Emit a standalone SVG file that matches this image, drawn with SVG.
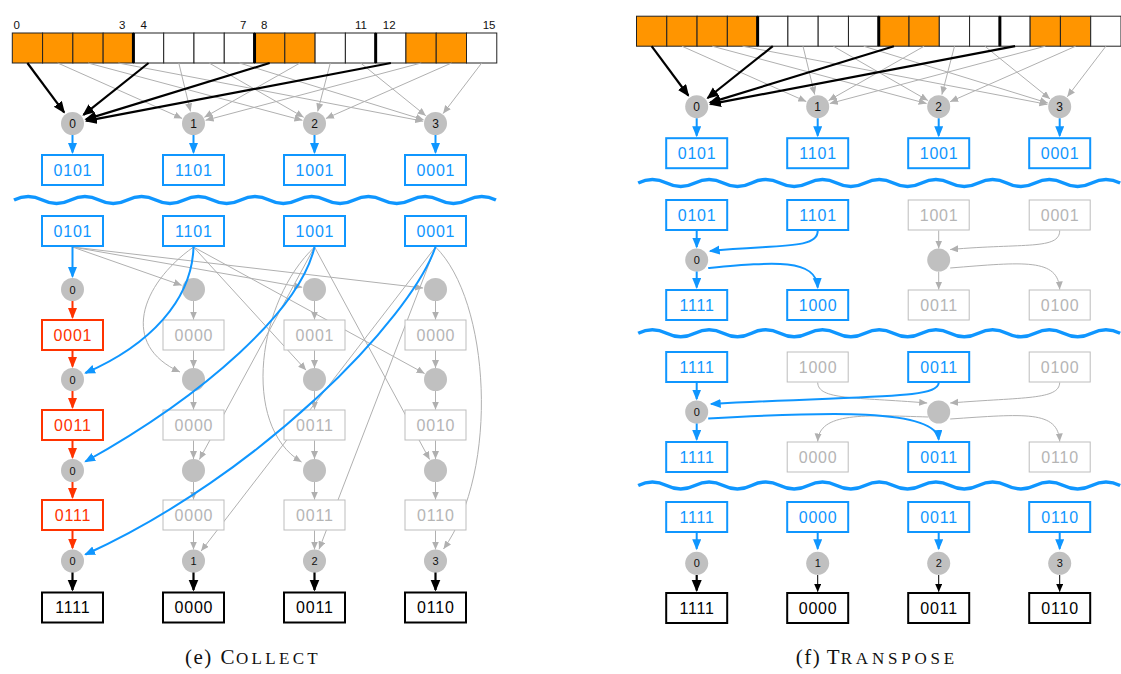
<svg xmlns="http://www.w3.org/2000/svg" width="1121" height="674" viewBox="0 0 1121 674">
  <defs>
    <style>
      .cell { stroke: #222; stroke-width: 1; }
      .cell.on { fill: #ff9500; }
      .cell.off { fill: #fff; }
      .sep { stroke: #000; stroke-width: 3; }
      .idx { font-family: "Liberation Sans", Arial, sans-serif; font-size: 11.5px; fill: #111; }
      .circ circle { fill: #c0c0c0; }
      .circ text { font-family: "Liberation Sans", Arial, sans-serif; font-size: 11px; fill: #111; text-anchor: middle; }
      .circ.big text { font-size: 12px; }
      .box rect { fill: #fff; }
      .box text { font-family: "Liberation Sans", Arial, sans-serif; font-size: 16px; letter-spacing: 0.8px; text-anchor: middle; }
      .box.blue rect { stroke: #0f96ff; stroke-width: 2; }
      .box.blue text { fill: #0f96ff; }
      .box.gray rect { stroke: #bdbdbd; stroke-width: 1; }
      .box.gray text { fill: #b5b5b5; }
      .box.red rect { stroke: #ff3300; stroke-width: 2; }
      .box.red text { fill: #ff3300; }
      .box.black rect { stroke: #000; stroke-width: 2; }
      .box.black text { fill: #000; }
      .e { fill: none; }
      .e.gray { stroke: #b0b0b0; stroke-width: 1; marker-end: url(#ah-gray); }
      .e.blue { stroke: #0f96ff; stroke-width: 2; marker-end: url(#ah-blue); }
      .e.red { stroke: #ff3300; stroke-width: 2; marker-end: url(#ah-red); }
      .e.black { stroke: #000; stroke-width: 2.2; marker-end: url(#ah-black); }
      .e.thin { stroke: #000; stroke-width: 1; marker-end: url(#ah-black-s); }
      .wave { fill: none; stroke: #0f96ff; stroke-width: 3.5; }
      .cap { font-family: "Liberation Serif", "Times New Roman", serif; font-size: 21px; fill: #111; }
      .cap .par { letter-spacing: 1.5px; }
      .cap .sc { font-size: 17px; letter-spacing: 3.3px; }
    </style>
    <marker id="ah-gray" markerUnits="userSpaceOnUse" markerWidth="9" markerHeight="8" refX="8" refY="3.5" orient="auto">
      <path d="M0,0 L8,3.5 L0,7 z" fill="#b0b0b0"/>
    </marker>
    <marker id="ah-blue" markerUnits="userSpaceOnUse" markerWidth="12" markerHeight="10" refX="9.5" refY="4.5" orient="auto">
      <path d="M0,0 L11,4.5 L0,9 z" fill="#0f96ff"/>
    </marker>
    <marker id="ah-red" markerUnits="userSpaceOnUse" markerWidth="12" markerHeight="10" refX="9.5" refY="4.5" orient="auto">
      <path d="M0,0 L11,4.5 L0,9 z" fill="#ff3300"/>
    </marker>
    <marker id="ah-black" markerUnits="userSpaceOnUse" markerWidth="13" markerHeight="11" refX="10.5" refY="5" orient="auto">
      <path d="M0,0 L12,5 L0,10 z" fill="#000"/>
    </marker>
    <marker id="ah-black-s" markerUnits="userSpaceOnUse" markerWidth="9" markerHeight="8" refX="7.5" refY="3.5" orient="auto">
      <path d="M0,0 L8,3.5 L0,7 z" fill="#000"/>
    </marker>
  </defs>

  <rect width="1121" height="674" fill="#fff"/>

  <!-- ============ (e) Collect ============ -->
  <g id="collect">
    <!-- memory row: 16 cells -->
    <g id="l-mem">
      <rect class="cell on" x="12.30" y="33" width="30.28" height="30"/>
      <rect class="cell on" x="42.58" y="33" width="30.28" height="30"/>
      <rect class="cell on" x="72.86" y="33" width="30.28" height="30"/>
      <rect class="cell on" x="103.14" y="33" width="30.28" height="30"/>
      <rect class="cell off" x="133.42" y="33" width="30.28" height="30"/>
      <rect class="cell off" x="163.70" y="33" width="30.28" height="30"/>
      <rect class="cell off" x="193.98" y="33" width="30.28" height="30"/>
      <rect class="cell off" x="224.26" y="33" width="30.28" height="30"/>
      <rect class="cell on" x="254.54" y="33" width="30.28" height="30"/>
      <rect class="cell on" x="284.82" y="33" width="30.28" height="30"/>
      <rect class="cell off" x="315.10" y="33" width="30.28" height="30"/>
      <rect class="cell off" x="345.38" y="33" width="30.28" height="30"/>
      <rect class="cell off" x="375.66" y="33" width="30.28" height="30"/>
      <rect class="cell on" x="405.94" y="33" width="30.28" height="30"/>
      <rect class="cell on" x="436.22" y="33" width="30.28" height="30"/>
      <rect class="cell off" x="466.50" y="33" width="30.28" height="30"/>
      <line class="sep" x1="133.42" y1="33" x2="133.42" y2="63"/>
      <line class="sep" x1="254.54" y1="33" x2="254.54" y2="63"/>
      <line class="sep" x1="375.66" y1="33" x2="375.66" y2="63"/>
      <text class="idx" x="13.5" y="29.3">0</text>
      <text class="idx" x="125.5" y="29.3" text-anchor="end">3</text>
      <text class="idx" x="140.5" y="29.3">4</text>
      <text class="idx" x="246.5" y="29.3" text-anchor="end">7</text>
      <text class="idx" x="261" y="29.3">8</text>
      <text class="idx" x="367" y="29.3" text-anchor="end">11</text>
      <text class="idx" x="382.8" y="29.3">12</text>
      <text class="idx" x="495.5" y="29.3" text-anchor="end">15</text>
    </g>

    <!-- connectors -->
    <g id="l-edges-back">
      <path class="e gray" d="M57.7,63 L182.1,118.4"/>
      <path class="e gray" d="M88,63 L302.4,120.3"/>
      <path class="e gray" d="M118.3,63 L423.2,121.2"/>
      <path class="e gray" d="M178.8,63 L190.5,111.4"/>
      <path class="e gray" d="M209.1,63 L303.7,117.3"/>
      <path class="e gray" d="M239.4,63 L423.6,119.8"/>
      <path class="e gray" d="M300,63 L204.4,117.3"/>
      <path class="e gray" d="M330.3,63 L317.7,111.4"/>
      <path class="e gray" d="M360.6,63 L425.8,115.7"/>
      <path class="e gray" d="M421.2,63 L205.6,120.3"/>
      <path class="e gray" d="M451.5,63 L325.9,118.5"/>
      <path class="e gray" d="M481.7,63 L443.1,113.6"/>
      <path class="e black" d="M27.4,63 L64.1,112.3"/>
      <path class="e black" d="M148.6,63 L83.5,114.8"/>
      <path class="e black" d="M269.7,63 L85.9,119.4"/>
      <path class="e black" d="M390.9,63 L86.3,120.9"/>

      <!-- fan-out from the first row of the second stage -->
      <path class="e gray" d="M72.5,247 L181.7,285.3"/>
      <path class="e gray" d="M72.5,247 L302.2,287.3"/>
      <path class="e gray" d="M72.5,247 L423.1,288"/>
      <path class="e gray" d="M193.5,247 C140,285 120,345 180,372"/>
      <path class="e gray" d="M193.5,247 L306.1,370.2"/>
      <path class="e gray" d="M193.5,247 L424.6,373.5"/>
      <path class="e gray" d="M314.5,247 L199.4,459.5"/>
      <path class="e gray" d="M314.5,247 C258,300 240,425 301.5,462"/>
      <path class="e gray" d="M314.5,247 L429.6,459.5"/>
      <path class="e gray" d="M435.5,247 L201.1,551.1"/>
      <path class="e gray" d="M435.5,247 L319,549.3"/>
      <path class="e gray" d="M435.5,247 C490,300 500,470 443.5,549"/>

      <!-- vertical chains, columns 1-3 -->
      <path class="e gray" d="M193.5,301 L193.5,319.5"/>
      <path class="e gray" d="M193.5,350.5 L193.5,368"/>
      <path class="e gray" d="M193.5,391 L193.5,409.5"/>
      <path class="e gray" d="M193.5,440.5 L193.5,459"/>
      <path class="e gray" d="M193.5,482 L193.5,499.5"/>
      <path class="e gray" d="M193.5,530.5 L193.5,549.5"/>
      <path class="e gray" d="M314.5,301 L314.5,319.5"/>
      <path class="e gray" d="M314.5,350.5 L314.5,368"/>
      <path class="e gray" d="M314.5,391 L314.5,409.5"/>
      <path class="e gray" d="M314.5,440.5 L314.5,459"/>
      <path class="e gray" d="M314.5,482 L314.5,499.5"/>
      <path class="e gray" d="M314.5,530.5 L314.5,549.5"/>
      <path class="e gray" d="M435.5,301 L435.5,319.5"/>
      <path class="e gray" d="M435.5,350.5 L435.5,368"/>
      <path class="e gray" d="M435.5,391 L435.5,409.5"/>
      <path class="e gray" d="M435.5,440.5 L435.5,459"/>
      <path class="e gray" d="M435.5,482 L435.5,499.5"/>
      <path class="e gray" d="M435.5,530.5 L435.5,549.5"/>
    </g>

    <!-- first stage nodes -->
    <g id="l-p0" class="circ big"><circle cx="72.5" cy="123.5" r="11.5"/><text x="72.5" y="127.7">0</text></g>
    <g id="l-p1" class="circ big"><circle cx="193.5" cy="123.5" r="11.5"/><text x="193.5" y="127.7">1</text></g>
    <g id="l-p2" class="circ big"><circle cx="314.5" cy="123.5" r="11.5"/><text x="314.5" y="127.7">2</text></g>
    <g id="l-p3" class="circ big"><circle cx="435.5" cy="123.5" r="11.5"/><text x="435.5" y="127.7">3</text></g>
    <g id="l-a0" class="box blue"><rect x="42" y="155" width="61" height="30"/><text x="72.9" y="175.7">0101</text></g>
    <g id="l-a1" class="box blue"><rect x="163" y="155" width="61" height="30"/><text x="193.9" y="175.7">1101</text></g>
    <g id="l-a2" class="box blue"><rect x="284" y="155" width="61" height="30"/><text x="314.9" y="175.7">1001</text></g>
    <g id="l-a3" class="box blue"><rect x="405" y="155" width="61" height="30"/><text x="435.9" y="175.7">0001</text></g>

    <path id="l-wave" class="wave" d="M14,200 q14.175,-7 28.35,0 t28.35,0 t28.35,0 t28.35,0 t28.35,0 t28.35,0 t28.35,0 t28.35,0 t28.35,0 t28.35,0 t28.35,0 t28.35,0 t28.35,0 t28.35,0 t28.35,0 t28.35,0 t28.35,0"/>

    <!-- second stage: inputs -->
    <g id="l-b0" class="box blue"><rect x="42" y="216" width="61" height="30"/><text x="72.9" y="236.7">0101</text></g>
    <g id="l-b1" class="box blue"><rect x="163" y="216" width="61" height="30"/><text x="193.9" y="236.7">1101</text></g>
    <g id="l-b2" class="box blue"><rect x="284" y="216" width="61" height="30"/><text x="314.9" y="236.7">1001</text></g>
    <g id="l-b3" class="box blue"><rect x="405" y="216" width="61" height="30"/><text x="435.9" y="236.7">0001</text></g>

    <!-- column 0 -->
    <g id="l-c0-s1" class="circ"><circle cx="72.5" cy="289.5" r="11.5"/><text x="72.5" y="293.5">0</text></g>
    <g id="l-c0-v1" class="box red"><rect x="42" y="320" width="61" height="30"/><text x="72.9" y="340.7">0001</text></g>
    <g id="l-c0-s2" class="circ"><circle cx="72.5" cy="379.5" r="11.5"/><text x="72.5" y="383.5">0</text></g>
    <g id="l-c0-v2" class="box red"><rect x="42" y="410" width="61" height="30"/><text x="72.9" y="430.7">0011</text></g>
    <g id="l-c0-s3" class="circ"><circle cx="72.5" cy="470.5" r="11.5"/><text x="72.5" y="474.5">0</text></g>
    <g id="l-c0-v3" class="box red"><rect x="42" y="500" width="61" height="30"/><text x="72.9" y="520.7">0111</text></g>
    <g id="l-c0-s4" class="circ"><circle cx="72.5" cy="561" r="11.5"/><text x="72.5" y="565">0</text></g>
    <g id="l-c0-out" class="box black"><rect x="42" y="592.5" width="61" height="30"/><text x="72.9" y="613.2">1111</text></g>

    <!-- column 1 -->
    <g id="l-c1-s1" class="circ"><circle cx="193.5" cy="289.5" r="11.5"/></g>
    <g id="l-c1-v1" class="box gray"><rect x="163" y="320" width="61" height="30"/><text x="193.9" y="340.7">0000</text></g>
    <g id="l-c1-s2" class="circ"><circle cx="193.5" cy="379.5" r="11.5"/></g>
    <g id="l-c1-v2" class="box gray"><rect x="163" y="410" width="61" height="30"/><text x="193.9" y="430.7">0000</text></g>
    <g id="l-c1-s3" class="circ"><circle cx="193.5" cy="470.5" r="11.5"/></g>
    <g id="l-c1-v3" class="box gray"><rect x="163" y="500" width="61" height="30"/><text x="193.9" y="520.7">0000</text></g>
    <g id="l-c1-s4" class="circ"><circle cx="193.5" cy="561" r="11.5"/><text x="193.5" y="565">1</text></g>
    <g id="l-c1-out" class="box black"><rect x="163" y="592.5" width="61" height="30"/><text x="193.9" y="613.2">0000</text></g>

    <!-- column 2 -->
    <g id="l-c2-s1" class="circ"><circle cx="314.5" cy="289.5" r="11.5"/></g>
    <g id="l-c2-v1" class="box gray"><rect x="284" y="320" width="61" height="30"/><text x="314.9" y="340.7">0001</text></g>
    <g id="l-c2-s2" class="circ"><circle cx="314.5" cy="379.5" r="11.5"/></g>
    <g id="l-c2-v2" class="box gray"><rect x="284" y="410" width="61" height="30"/><text x="314.9" y="430.7">0011</text></g>
    <g id="l-c2-s3" class="circ"><circle cx="314.5" cy="470.5" r="11.5"/></g>
    <g id="l-c2-v3" class="box gray"><rect x="284" y="500" width="61" height="30"/><text x="314.9" y="520.7">0011</text></g>
    <g id="l-c2-s4" class="circ"><circle cx="314.5" cy="561" r="11.5"/><text x="314.5" y="565">2</text></g>
    <g id="l-c2-out" class="box black"><rect x="284" y="592.5" width="61" height="30"/><text x="314.9" y="613.2">0011</text></g>

    <!-- column 3 -->
    <g id="l-c3-s1" class="circ"><circle cx="435.5" cy="289.5" r="11.5"/></g>
    <g id="l-c3-v1" class="box gray"><rect x="405" y="320" width="61" height="30"/><text x="435.9" y="340.7">0000</text></g>
    <g id="l-c3-s2" class="circ"><circle cx="435.5" cy="379.5" r="11.5"/></g>
    <g id="l-c3-v2" class="box gray"><rect x="405" y="410" width="61" height="30"/><text x="435.9" y="430.7">0010</text></g>
    <g id="l-c3-s3" class="circ"><circle cx="435.5" cy="470.5" r="11.5"/></g>
    <g id="l-c3-v3" class="box gray"><rect x="405" y="500" width="61" height="30"/><text x="435.9" y="520.7">0110</text></g>
    <g id="l-c3-s4" class="circ"><circle cx="435.5" cy="561" r="11.5"/><text x="435.5" y="565">3</text></g>
    <g id="l-c3-out" class="box black"><rect x="405" y="592.5" width="61" height="30"/><text x="435.9" y="613.2">0110</text></g>

    <!-- highlighted connectors drawn over the nodes -->
    <g id="l-edges-front">
      <path class="e blue" d="M72.5,135 L72.5,152.5"/>
      <path class="e blue" d="M193.5,135 L193.5,152.5"/>
      <path class="e blue" d="M314.5,135 L314.5,152.5"/>
      <path class="e blue" d="M435.5,135 L435.5,152.5"/>
      <path class="e blue" d="M72.5,247 L72.5,276.5"/>
      <path class="e red" d="M72.5,301 L72.5,317.5"/>
      <path class="e red" d="M72.5,351 L72.5,366.5"/>
      <path class="e red" d="M72.5,391 L72.5,407.5"/>
      <path class="e red" d="M72.5,441 L72.5,457.5"/>
      <path class="e red" d="M72.5,482 L72.5,497.5"/>
      <path class="e red" d="M72.5,531 L72.5,548"/>
      <path class="e blue" d="M193.5,247 C192,300 150,345 85.5,373"/>
      <path class="e blue" d="M314.5,247 C300,310 205,395 85.5,461.5"/>
      <path class="e blue" d="M435.5,247 C410,320 260,475 85.5,554.5"/>
      <path class="e black" d="M72.5,572.5 L72.5,590"/>
      <path class="e black" d="M193.5,572.5 L193.5,590"/>
      <path class="e black" d="M314.5,572.5 L314.5,590"/>
      <path class="e black" d="M435.5,572.5 L435.5,590"/>
    </g>

    <text class="cap" y="664"><tspan class="par" x="185">(e)</tspan><tspan x="220.5">C</tspan><tspan class="sc" x="236">OLLECT</tspan></text>
  </g>

  <!-- ============ (f) Transpose ============ -->
  <g id="transpose" transform="translate(624.2,0)">
    <g id="r-top" transform="translate(0,-16.8)">
      <g id="r-mem">
        <rect class="cell on" x="12.30" y="33" width="30.28" height="30"/>
        <rect class="cell on" x="42.58" y="33" width="30.28" height="30"/>
        <rect class="cell on" x="72.86" y="33" width="30.28" height="30"/>
        <rect class="cell on" x="103.14" y="33" width="30.28" height="30"/>
        <rect class="cell off" x="133.42" y="33" width="30.28" height="30"/>
        <rect class="cell off" x="163.70" y="33" width="30.28" height="30"/>
        <rect class="cell off" x="193.98" y="33" width="30.28" height="30"/>
        <rect class="cell off" x="224.26" y="33" width="30.28" height="30"/>
        <rect class="cell on" x="254.54" y="33" width="30.28" height="30"/>
        <rect class="cell on" x="284.82" y="33" width="30.28" height="30"/>
        <rect class="cell off" x="315.10" y="33" width="30.28" height="30"/>
        <rect class="cell off" x="345.38" y="33" width="30.28" height="30"/>
        <rect class="cell off" x="375.66" y="33" width="30.28" height="30"/>
        <rect class="cell on" x="405.94" y="33" width="30.28" height="30"/>
        <rect class="cell on" x="436.22" y="33" width="30.28" height="30"/>
        <rect class="cell off" x="466.50" y="33" width="30.28" height="30"/>
        <line class="sep" x1="133.42" y1="33" x2="133.42" y2="63"/>
        <line class="sep" x1="254.54" y1="33" x2="254.54" y2="63"/>
        <line class="sep" x1="375.66" y1="33" x2="375.66" y2="63"/>
      </g>
      <g id="r-edges-top">
        <path class="e gray" d="M57.7,63 L182.1,118.4"/>
        <path class="e gray" d="M88,63 L302.4,120.3"/>
        <path class="e gray" d="M118.3,63 L423.2,121.2"/>
        <path class="e gray" d="M178.8,63 L190.5,111.4"/>
        <path class="e gray" d="M209.1,63 L303.7,117.3"/>
        <path class="e gray" d="M239.4,63 L423.6,119.8"/>
        <path class="e gray" d="M300,63 L204.4,117.3"/>
        <path class="e gray" d="M330.3,63 L317.7,111.4"/>
        <path class="e gray" d="M360.6,63 L425.8,115.7"/>
        <path class="e gray" d="M421.2,63 L205.6,120.3"/>
        <path class="e gray" d="M451.5,63 L325.9,118.5"/>
        <path class="e gray" d="M481.7,63 L443.1,113.6"/>
        <path class="e black" d="M27.4,63 L64.1,112.3"/>
        <path class="e black" d="M148.6,63 L83.5,114.8"/>
        <path class="e black" d="M269.7,63 L85.9,119.4"/>
        <path class="e black" d="M390.9,63 L86.3,120.9"/>
        <path class="e blue" d="M72.5,135 L72.5,152.5"/>
        <path class="e blue" d="M193.5,135 L193.5,152.5"/>
        <path class="e blue" d="M314.5,135 L314.5,152.5"/>
        <path class="e blue" d="M435.5,135 L435.5,152.5"/>
      </g>
      <g id="r-p0" class="circ big"><circle cx="72.5" cy="123.5" r="11.5"/><text x="72.5" y="127.7">0</text></g>
      <g id="r-p1" class="circ big"><circle cx="193.5" cy="123.5" r="11.5"/><text x="193.5" y="127.7">1</text></g>
      <g id="r-p2" class="circ big"><circle cx="314.5" cy="123.5" r="11.5"/><text x="314.5" y="127.7">2</text></g>
      <g id="r-p3" class="circ big"><circle cx="435.5" cy="123.5" r="11.5"/><text x="435.5" y="127.7">3</text></g>
      <g id="r-a0" class="box blue"><rect x="42" y="155" width="61" height="30"/><text x="72.9" y="175.7">0101</text></g>
      <g id="r-a1" class="box blue"><rect x="163" y="155" width="61" height="30"/><text x="193.9" y="175.7">1101</text></g>
      <g id="r-a2" class="box blue"><rect x="284" y="155" width="61" height="30"/><text x="314.9" y="175.7">1001</text></g>
      <g id="r-a3" class="box blue"><rect x="405" y="155" width="61" height="30"/><text x="435.9" y="175.7">0001</text></g>
    </g>

    <path id="r-wave1" class="wave" d="M14,183 q14.175,-7 28.35,0 t28.35,0 t28.35,0 t28.35,0 t28.35,0 t28.35,0 t28.35,0 t28.35,0 t28.35,0 t28.35,0 t28.35,0 t28.35,0 t28.35,0 t28.35,0 t28.35,0 t28.35,0 t28.35,0"/>
    <path id="r-wave2" class="wave" d="M14,333.3 q14.175,-7 28.35,0 t28.35,0 t28.35,0 t28.35,0 t28.35,0 t28.35,0 t28.35,0 t28.35,0 t28.35,0 t28.35,0 t28.35,0 t28.35,0 t28.35,0 t28.35,0 t28.35,0 t28.35,0 t28.35,0"/>
    <path id="r-wave3" class="wave" d="M14,485.5 q14.175,-7 28.35,0 t28.35,0 t28.35,0 t28.35,0 t28.35,0 t28.35,0 t28.35,0 t28.35,0 t28.35,0 t28.35,0 t28.35,0 t28.35,0 t28.35,0 t28.35,0 t28.35,0 t28.35,0 t28.35,0"/>

    <!-- step 1 -->
    <g id="r-s1-edges-back">
      <path class="e gray" d="M314.5,230.5 L314.5,248.5"/>
      <path class="e gray" d="M435.5,230.5 C435.5,250 400,243 326,249.5"/>
      <path class="e gray" d="M314.5,271.5 L314.5,289.5"/>
      <path class="e gray" d="M326,268 C400,262 434,258 435.5,289.5"/>
    </g>
    <g id="r-s1-i0" class="box blue"><rect x="42" y="200" width="61" height="30"/><text x="72.9" y="220.7">0101</text></g>
    <g id="r-s1-i1" class="box blue"><rect x="163" y="200" width="61" height="30"/><text x="193.9" y="220.7">1101</text></g>
    <g id="r-s1-i2" class="box gray"><rect x="284" y="200" width="61" height="30"/><text x="314.9" y="220.7">1001</text></g>
    <g id="r-s1-i3" class="box gray"><rect x="405" y="200" width="61" height="30"/><text x="435.9" y="220.7">0001</text></g>
    <g id="r-s1-n0" class="circ"><circle cx="72.5" cy="260" r="11.5"/><text x="72.5" y="264">0</text></g>
    <g id="r-s1-n2" class="circ"><circle cx="314.5" cy="260" r="11.5"/></g>
    <g id="r-s1-o0" class="box blue"><rect x="42" y="290" width="61" height="30"/><text x="72.9" y="310.7">1111</text></g>
    <g id="r-s1-o1" class="box blue"><rect x="163" y="290" width="61" height="30"/><text x="193.9" y="310.7">1000</text></g>
    <g id="r-s1-o2" class="box gray"><rect x="284" y="290" width="61" height="30"/><text x="314.9" y="310.7">0011</text></g>
    <g id="r-s1-o3" class="box gray"><rect x="405" y="290" width="61" height="30"/><text x="435.9" y="310.7">0100</text></g>
    <g id="r-s1-edges-front">
      <path class="e blue" d="M72.5,231 L72.5,247"/>
      <path class="e blue" d="M193.5,231 C193.5,250 150,244 86,251"/>
      <path class="e blue" d="M72.5,271.5 L72.5,287.5"/>
      <path class="e blue" d="M84,268 C150,262 192,258 193.5,287.5"/>
    </g>

    <!-- step 2 -->
    <g id="r-s2-edges-back">
      <path class="e gray" d="M193.5,382.5 C194,400 230,397 303,403"/>
      <path class="e gray" d="M435.5,382.5 C435,400 400,397 326,403"/>
      <path class="e gray" d="M304,417 C240,415 195,412 193.5,441.5"/>
      <path class="e gray" d="M326,419 C400,414 434,410 435.5,441.5"/>
    </g>
    <g id="r-s2-i0" class="box blue"><rect x="42" y="352" width="61" height="30"/><text x="72.9" y="372.7">1111</text></g>
    <g id="r-s2-i1" class="box gray"><rect x="163" y="352" width="61" height="30"/><text x="193.9" y="372.7">1000</text></g>
    <g id="r-s2-i2" class="box blue"><rect x="284" y="352" width="61" height="30"/><text x="314.9" y="372.7">0011</text></g>
    <g id="r-s2-i3" class="box gray"><rect x="405" y="352" width="61" height="30"/><text x="435.9" y="372.7">0100</text></g>
    <g id="r-s2-n0" class="circ"><circle cx="72.5" cy="412" r="11.5"/><text x="72.5" y="416">0</text></g>
    <g id="r-s2-n2" class="circ"><circle cx="314.5" cy="412" r="11.5"/></g>
    <g id="r-s2-o0" class="box blue"><rect x="42" y="442" width="61" height="30"/><text x="72.9" y="462.7">1111</text></g>
    <g id="r-s2-o1" class="box gray"><rect x="163" y="442" width="61" height="30"/><text x="193.9" y="462.7">0000</text></g>
    <g id="r-s2-o2" class="box blue"><rect x="284" y="442" width="61" height="30"/><text x="314.9" y="462.7">0011</text></g>
    <g id="r-s2-o3" class="box gray"><rect x="405" y="442" width="61" height="30"/><text x="435.9" y="462.7">0110</text></g>
    <g id="r-s2-edges-front">
      <path class="e blue" d="M72.5,383 L72.5,399"/>
      <path class="e blue" d="M314.5,383 C313,399 250,395 87,404"/>
      <path class="e blue" d="M72.5,423.5 L72.5,439.5"/>
      <path class="e blue" d="M84,418.5 C200,412 312,408 314.5,439.5"/>
    </g>

    <!-- write-back -->
    <g id="r-w0" class="box blue"><rect x="42" y="502" width="61" height="30"/><text x="72.9" y="522.7">1111</text></g>
    <g id="r-w1" class="box blue"><rect x="163" y="502" width="61" height="30"/><text x="193.9" y="522.7">0000</text></g>
    <g id="r-w2" class="box blue"><rect x="284" y="502" width="61" height="30"/><text x="314.9" y="522.7">0011</text></g>
    <g id="r-w3" class="box blue"><rect x="405" y="502" width="61" height="30"/><text x="435.9" y="522.7">0110</text></g>
    <g id="r-q0" class="circ"><circle cx="72.5" cy="563.3" r="11.5"/><text x="72.5" y="567.3">0</text></g>
    <g id="r-q1" class="circ"><circle cx="193.5" cy="563.3" r="11.5"/><text x="193.5" y="567.3">1</text></g>
    <g id="r-q2" class="circ"><circle cx="314.5" cy="563.3" r="11.5"/><text x="314.5" y="567.3">2</text></g>
    <g id="r-q3" class="circ"><circle cx="435.5" cy="563.3" r="11.5"/><text x="435.5" y="567.3">3</text></g>
    <g id="r-out0" class="box black"><rect x="42" y="593" width="61" height="30"/><text x="72.9" y="613.7">1111</text></g>
    <g id="r-out1" class="box black"><rect x="163" y="593" width="61" height="30"/><text x="193.9" y="613.7">0000</text></g>
    <g id="r-out2" class="box black"><rect x="284" y="593" width="61" height="30"/><text x="314.9" y="613.7">0011</text></g>
    <g id="r-out3" class="box black"><rect x="405" y="593" width="61" height="30"/><text x="435.9" y="613.7">0110</text></g>
    <g id="r-wb-edges">
      <path class="e blue" d="M72.5,533 L72.5,548.8"/>
      <path class="e blue" d="M193.5,533 L193.5,548.8"/>
      <path class="e blue" d="M314.5,533 L314.5,548.8"/>
      <path class="e blue" d="M435.5,533 L435.5,548.8"/>
      <path class="e black" d="M72.5,575 L72.5,590.5"/>
      <path class="e thin" d="M193.5,575 L193.5,591.5"/>
      <path class="e thin" d="M314.5,575 L314.5,591.5"/>
      <path class="e thin" d="M435.5,575 L435.5,591.5"/>
    </g>

    <text class="cap" y="664"><tspan class="par" x="171.5">(f)</tspan><tspan x="202.5">T</tspan><tspan class="sc" x="216.5" style="letter-spacing:3.8px">RANSPOSE</tspan></text>
  </g>
</svg>
